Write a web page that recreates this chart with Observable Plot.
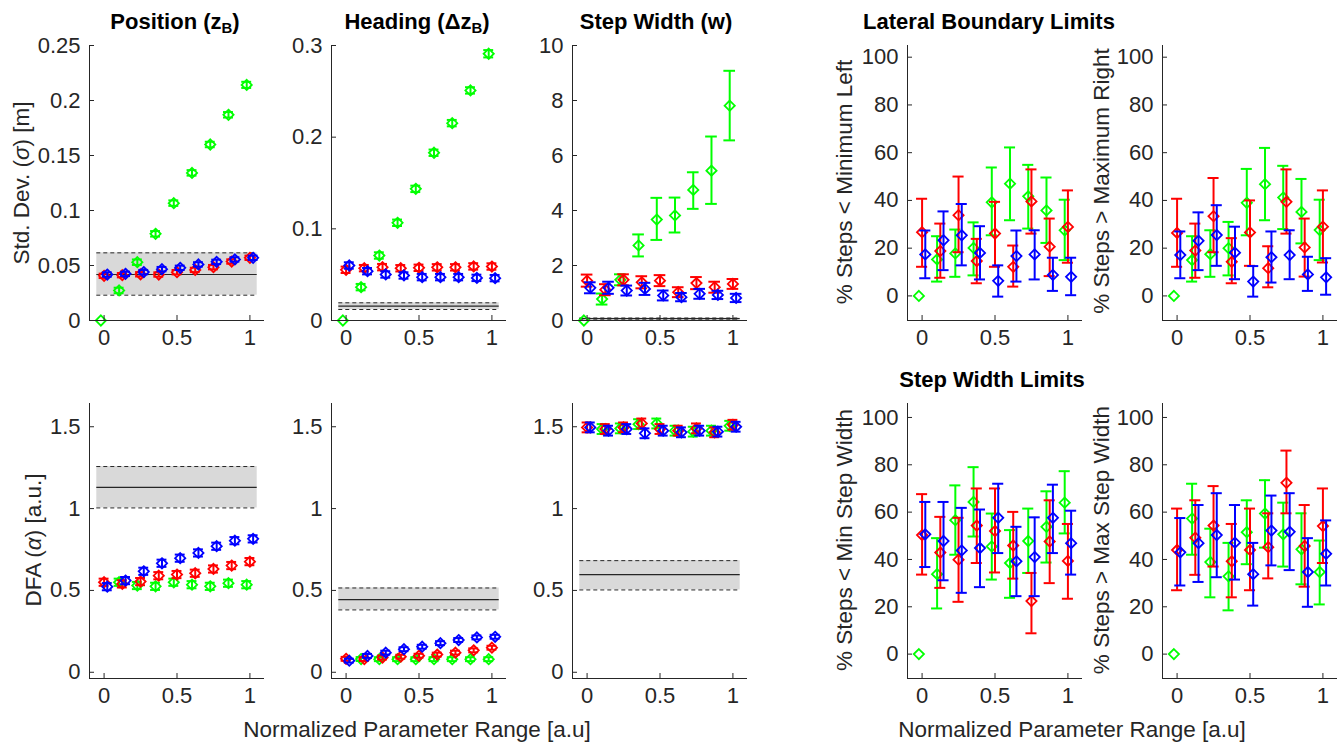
<!DOCTYPE html>
<html>
<head>
<meta charset="utf-8">
<script src="https://cdn.jsdelivr.net/npm/d3@7"></script>
<script src="https://cdn.jsdelivr.net/npm/@observablehq/plot@0.6"></script>
<style>
  html, body { margin: 0; padding: 0; background: #fff; overflow: hidden; }
  #fig { position: relative; width: 1338px; height: 744px; background: #fff; overflow: hidden;
         font-family: "Liberation Sans", Arial, sans-serif; color: #262626; }
  .lbl { position: absolute; white-space: nowrap; transform: translate(-50%, -50%); line-height: 1; }
  .rot { transform: translate(-50%, -50%) rotate(-90deg); }
  .ttl { font-weight: bold; font-size: 22px; color: #000; }
  .ax { font-size: 22.5px; }
  sub { font-size: 68%; vertical-align: -0.3em; line-height: 0; }
</style>
</head>
<body>
<div id="fig"></div>
<script>
// ---------- data ----------
const xBase = [0, 0.125, 0.25, 0.375, 0.5, 0.625, 0.75, 0.875, 1];
const seriesColors = ["#00ff00", "#ff0000", "#0000ff"];
const xTicks = [0, 0.5, 1];

// Position std dev (m)
const posG = [0, 0.0273, 0.053, 0.0788, 0.1067, 0.1342, 0.16, 0.187, 0.2142];
const posR = [0.0406, 0.0412, 0.042, 0.0418, 0.0439, 0.046, 0.0485, 0.0536, 0.057];
const posB = [0.0418, 0.0424, 0.044, 0.0467, 0.0479, 0.051, 0.0533, 0.0555, 0.057];
const posErrG = [0, 0.0025, 0.0025, 0.0025, 0.0025, 0.0025, 0.0025, 0.0025, 0.0028];
const posErrR = [0.002, 0.002, 0.002, 0.002, 0.002, 0.002, 0.002, 0.002, 0.002];
const posErrB = [0.002, 0.002, 0.002, 0.002, 0.002, 0.002, 0.002, 0.002, 0.002];
const posBand = {lo: 0.023, mean: 0.0418, hi: 0.0615};

// Heading std dev
const hdG = [0, 0.0364, 0.0709, 0.1066, 0.1436, 0.183, 0.2153, 0.251, 0.291];
const hdR = [0.0553, 0.0571, 0.0582, 0.057, 0.0575, 0.058, 0.058, 0.059, 0.0589];
const hdB = [0.06, 0.0538, 0.0502, 0.0491, 0.0473, 0.0473, 0.0473, 0.0465, 0.0462];
const hdErrG = [0, 0.0035, 0.0035, 0.0035, 0.0035, 0.0035, 0.0035, 0.0035, 0.004];
const hdErrR = [0.0035, 0.0035, 0.0035, 0.0035, 0.0035, 0.0035, 0.0035, 0.0035, 0.0035];
const hdErrB = [0.0035, 0.0035, 0.0035, 0.0035, 0.0035, 0.0035, 0.0035, 0.0035, 0.0035];
const hdBand = {lo: 0.012, mean: 0.0156, hi: 0.0193};

// Step width std dev
const swG = [0, 0.78, 1.48, 2.73, 3.67, 3.82, 4.75, 5.45, 7.81];
const swGlo = [0, 0.58, 1.28, 2.33, 2.93, 3.2, 4.06, 4.24, 6.55];
const swGhi = [0, 0.98, 1.68, 3.13, 4.46, 4.47, 5.39, 6.69, 9.08];
const swR = [1.45, 1.12, 1.48, 1.39, 1.45, 1.03, 1.36, 1.21, 1.33];
const swErrR = [0.22, 0.2, 0.2, 0.22, 0.2, 0.18, 0.22, 0.2, 0.18];
const swB = [1.19, 1.19, 1.09, 1.15, 0.91, 0.85, 0.97, 0.93, 0.82];
const swErrB = [0.2, 0.22, 0.18, 0.22, 0.18, 0.15, 0.18, 0.15, 0.15];
const swBand = {lo: 0.05, mean: 0.07, hi: 0.09};

// Lateral boundary: % steps < minimum left
const llG = [0, 15.3, 17.8, 20.1, 39.2, 47, 41.7, 35.8, 27.5];
const llGlo = [0, 6, 8, 8.6, 25.4, 31.7, 28.2, 22.2, 15];
const llGhi = [0, 25, 27.8, 30.8, 53.8, 62.2, 54.9, 49.6, 40.3];
const llR = [26.7, 18.8, 33.8, 14.6, 26.1, 12.2, 39.6, 20.6, 28.9];
const llRlo = [12.2, 7.6, 18.3, 5.3, 12.2, 3.9, 26.1, 8.3, 13.9];
const llRhi = [40.7, 30.3, 50, 23.9, 39.4, 21.1, 53, 32.4, 44.2];
const llB = [17.4, 23.3, 25.4, 18, 6.3, 16.7, 17.4, 8.8, 8];
const llBlo = [7.4, 10.8, 12.8, 6.9, -0.3, 6, 6.9, 2.1, 0.3];
const llBhi = [27.4, 35.4, 38.5, 29.2, 12.8, 27.4, 27.5, 16, 16];

// Lateral boundary: % steps > maximum right
const lrG = [0, 15, 17.5, 20, 39, 46.8, 41.2, 35.2, 27.6];
const lrGlo = [0, 6, 8, 8.6, 25.4, 31.7, 28, 22, 15];
const lrGhi = [0, 25, 27.5, 31, 53.2, 62, 54.5, 49, 40.3];
const lrR = [26.4, 19, 33.4, 14.3, 26.6, 11.6, 39.4, 20.3, 29];
const lrRlo = [12.2, 7.6, 18.3, 5.3, 12.6, 3.6, 26.1, 8.1, 14];
const lrRhi = [40.7, 30.3, 49.4, 24.2, 40, 20.8, 53, 32.4, 44.2];
const lrB = [17.1, 23.1, 25.5, 18.1, 6, 16.2, 17.1, 9, 7.8];
const lrBlo = [7.4, 10.8, 12.6, 7, -0.3, 5.6, 7, 2.1, 0.5];
const lrBhi = [27, 35, 38, 29, 12.5, 27, 27.5, 16.4, 15.8];

// DFA position
const dpG = [null, 0.55, 0.53, 0.525, 0.55, 0.535, 0.525, 0.544, 0.535];
const dpR = [0.55, 0.54, 0.554, 0.59, 0.597, 0.605, 0.631, 0.652, 0.676];
const dpB = [0.523, 0.56, 0.617, 0.666, 0.697, 0.729, 0.77, 0.804, 0.815];
const dfaErr = [0.022, 0.022, 0.022, 0.022, 0.022, 0.022, 0.022, 0.022, 0.022];
const dpBand = {lo: 1.004, mean: 1.13, hi: 1.257};

// DFA heading
const dhG = [null, 0.081, 0.08, 0.08, 0.08, 0.08, 0.08, 0.08, 0.08];
const dhR = [0.082, 0.081, 0.09, 0.095, 0.101, 0.108, 0.12, 0.134, 0.15];
const dhB = [0.071, 0.1, 0.12, 0.141, 0.156, 0.178, 0.197, 0.213, 0.217];
const dhErr = [0.012, 0.012, 0.012, 0.012, 0.012, 0.012, 0.012, 0.012, 0.012];
const dhBand = {lo: 0.381, mean: 0.444, hi: 0.515};

// DFA step width
const dsG = [null, 1.486, 1.49, 1.516, 1.52, 1.476, 1.47, 1.476, 1.506];
const dsR = [1.496, 1.486, 1.496, 1.52, 1.486, 1.476, 1.49, 1.466, 1.512];
const dsB = [1.496, 1.476, 1.486, 1.46, 1.476, 1.466, 1.476, 1.47, 1.5];
const dsErr = [0.03, 0.03, 0.03, 0.03, 0.03, 0.03, 0.03, 0.03, 0.03];
const dsBand = {lo: 0.503, mean: 0.597, hi: 0.682};

// Step width limits: % steps < min step width
const smnG = [0, 33.8, 56.6, 64.3, 45.5, 38.5, 47.8, 53.8, 64];
const smnGlo = [0, 19.3, 42, 49.7, 31.5, 23.8, 34.3, 38.7, 51];
const smnGhi = [0, 49, 71.3, 79, 59.4, 52.4, 61.5, 68.8, 77.3];
const smnR = [50.3, 42.9, 39.9, 54.3, 52, 45.9, 22.4, 47.6, 39.4];
const smnRlo = [33.6, 28, 22.1, 38.5, 34.5, 31.9, 8.8, 30, 23.4];
const smnRhi = [67.6, 58, 57.6, 70, 70, 60.1, 34.3, 65, 55];
const smnB = [50.6, 47.8, 43.8, 44.8, 57.6, 39.2, 41, 57.6, 46.9];
const smnBlo = [36.8, 31.2, 25.9, 28.3, 42.7, 24.5, 24.5, 42.7, 33.6];
const smnBhi = [64.3, 64.3, 61.8, 61.1, 72, 53.8, 57.8, 71.6, 60.6];

// Step width limits: % steps > max step width
const smxG = [0, 57.3, 38.9, 32.9, 51.5, 59.4, 50.6, 44.3, 34.7];
const smxGlo = [0, 42, 24, 18.5, 38, 45, 37, 29.5, 21];
const smxGhi = [0, 72, 53, 47, 65, 73.5, 64, 59.5, 48];
const smxR = [44, 49.2, 54.3, 39.2, 44, 45.2, 72.4, 45.7, 54.1];
const smxRlo = [27, 33.5, 37, 24, 27, 32, 59.5, 28.5, 38.5];
const smxRhi = [61.5, 65, 71, 55, 61.5, 59.5, 86, 63, 70];
const smxB = [43, 46.9, 50.3, 47.1, 33.8, 52.2, 51.7, 34.7, 42.4];
const smxBlo = [29, 30.5, 32.5, 31.5, 20.5, 37.5, 35.5, 20, 29];
const smxBhi = [57.5, 63, 68, 63, 47, 67, 68, 49, 56.5];

// ---------- helpers ----------
const fig = document.getElementById("fig");
const offsets = [-0.022, 0, 0.022];
const INK = "#262626";
const fmt = d => String(d);

function rows(k, ys, los, his) {
  return xBase.map((x, i) => ({x: x + offsets[k], y: ys[i], lo: los[i], hi: his[i]}))
    .filter(d => d.y != null);
}
function sym(k, ys, errs) {
  return rows(k, ys, ys.map((v, i) => v == null ? null : v - errs[i]), ys.map((v, i) => v == null ? null : v + errs[i]));
}

function panel({left, top, yDomain, yTicks, band, series, cap = 0.038, w = 175, h = 275}) {
  const ML = 80, MR = 1, MT = 4, MB = 46;
  const xDomain = [-0.1, 1.1];
  const marks = [];
  if (band) {
    const bx1 = -0.05, bx2 = 1.05;
    marks.push(Plot.rect([band], {x1: bx1, x2: bx2, y1: "lo", y2: "hi", fill: "#d9d9d9"}));
    marks.push(Plot.ruleY([band], {y: "lo", x1: bx1, x2: bx2, stroke: INK, strokeWidth: 1, strokeDasharray: "4,3"}));
    marks.push(Plot.ruleY([band], {y: "hi", x1: bx1, x2: bx2, stroke: INK, strokeWidth: 1, strokeDasharray: "4,3"}));
    marks.push(Plot.ruleY([band], {y: "mean", x1: bx1, x2: bx2, stroke: INK, strokeWidth: 1.2}));
  }
  series.forEach((data, k) => {
    const c = seriesColors[k];
    const eb = data.filter(d => d.hi > d.lo);
    marks.push(Plot.ruleX(eb, {x: "x", y1: "lo", y2: "hi", stroke: c, strokeWidth: 2}));
    marks.push(Plot.ruleY(eb, {y: "lo", x1: d => d.x - cap, x2: d => d.x + cap, stroke: c, strokeWidth: 2}));
    marks.push(Plot.ruleY(eb, {y: "hi", x1: d => d.x - cap, x2: d => d.x + cap, stroke: c, strokeWidth: 2}));
    marks.push(Plot.dot(data, {x: "x", y: "y", symbol: "diamond2", r: 4.6, stroke: c, strokeWidth: 1.8, fill: "none"}));
  });
  marks.push(Plot.axisY({ticks: yTicks, tickFormat: fmt, tickSize: -5, tickPadding: 14, fontSize: 22, label: null, stroke: INK}));
  marks.push(Plot.axisX({ticks: xTicks, tickFormat: fmt, tickSize: -5, tickPadding: 14, fontSize: 22, label: null, stroke: INK}));
  marks.push(Plot.ruleX([xDomain[0]], {stroke: INK, strokeWidth: 1}));
  marks.push(Plot.ruleY([yDomain[0]], {stroke: INK, strokeWidth: 1}));
  const svg = Plot.plot({
    width: w + ML + MR, height: h + MT + MB,
    marginLeft: ML, marginRight: MR, marginTop: MT, marginBottom: MB,
    x: {domain: xDomain}, y: {domain: yDomain},
    style: {fontFamily: "Liberation Sans, Arial, sans-serif", color: INK, background: "transparent", overflow: "visible"},
    marks
  });
  svg.style.position = "absolute";
  svg.style.left = (left - ML) + "px";
  svg.style.top = (top - MT) + "px";
  svg.style.maxWidth = "none";
  fig.appendChild(svg);
}

function label(html, cx, cy, cls) {
  const d = document.createElement("div");
  d.className = "lbl " + cls;
  d.innerHTML = html;
  d.style.left = cx + "px";
  d.style.top = cy + "px";
  fig.appendChild(d);
}

// ---------- panels ----------
const T1 = 45, T2 = 403;
const L = [89, 331, 572, 907, 1162];
const stdTicks = [0, 0.05, 0.1, 0.15, 0.2, 0.25];
const hdTicks = [0, 0.1, 0.2, 0.3];
const swTicks = [0, 2, 4, 6, 8, 10];
const pctTicks = [0, 20, 40, 60, 80, 100];
const dfaTicks = [0, 0.5, 1, 1.5];

panel({left: L[0], top: T1, yDomain: [0, 0.25], yTicks: stdTicks, band: posBand, cap: 0.034,
  series: [sym(0, posG, posErrG), sym(1, posR, posErrR), sym(2, posB, posErrB)]});
panel({left: L[1], top: T1, yDomain: [0, 0.3], yTicks: hdTicks, band: hdBand, cap: 0.034,
  series: [sym(0, hdG, hdErrG), sym(1, hdR, hdErrR), sym(2, hdB, hdErrB)]});
panel({left: L[2], top: T1, yDomain: [0, 10], yTicks: swTicks, band: swBand, cap: 0.04,
  series: [rows(0, swG, swGlo, swGhi), sym(1, swR, swErrR), sym(2, swB, swErrB)]});
panel({left: L[3], top: T1, yDomain: [-10.3, 104.9], yTicks: pctTicks,
  series: [rows(0, llG, llGlo, llGhi), rows(1, llR, llRlo, llRhi), rows(2, llB, llBlo, llBhi)]});
panel({left: L[4], top: T1, yDomain: [-10.3, 104.9], yTicks: pctTicks,
  series: [rows(0, lrG, lrGlo, lrGhi), rows(1, lrR, lrRlo, lrRhi), rows(2, lrB, lrBlo, lrBhi)]});

panel({left: L[0], top: T2, yDomain: [-0.038, 1.642], yTicks: dfaTicks, band: dpBand, cap: 0.034,
  series: [sym(0, dpG, dfaErr), sym(1, dpR, dfaErr), sym(2, dpB, dfaErr)]});
panel({left: L[1], top: T2, yDomain: [-0.038, 1.642], yTicks: dfaTicks, band: dhBand, cap: 0.034,
  series: [sym(0, dhG, dhErr), sym(1, dhR, dhErr), sym(2, dhB, dhErr)]});
panel({left: L[2], top: T2, yDomain: [-0.038, 1.642], yTicks: dfaTicks, band: dsBand, cap: 0.034,
  series: [sym(0, dsG, dsErr), sym(1, dsR, dsErr), sym(2, dsB, dsErr)]});
panel({left: L[3], top: T2, yDomain: [-10.3, 105.9], yTicks: pctTicks,
  series: [rows(0, smnG, smnGlo, smnGhi), rows(1, smnR, smnRlo, smnRhi), rows(2, smnB, smnBlo, smnBhi)]});
panel({left: L[4], top: T2, yDomain: [-10.3, 105.9], yTicks: pctTicks,
  series: [rows(0, smxG, smxGlo, smxGhi), rows(1, smxR, smxRlo, smxRhi), rows(2, smxB, smxBlo, smxBhi)]});

// ---------- titles & labels ----------
label("Position (z<sub>B</sub>)", 175, 22, "ttl");
label("Heading (&Delta;z<sub>B</sub>)", 417, 22, "ttl");
label("Step Width (w)", 656, 22, "ttl");
label("Lateral Boundary Limits", 989, 22, "ttl");
label("Step Width Limits", 992, 380, "ttl");

label("Std. Dev. (<i>&sigma;</i>) [m]", 22, 183, "ax rot");
label("DFA (<i>&alpha;</i>) [a.u.]", 34, 540, "ax rot");
label("% Steps &lt; Minimum Left", 845, 182, "ax rot");
label("% Steps &gt; Maximum Right", 1102, 181, "ax rot");
label("% Steps &lt; Min Step Width", 845, 540, "ax rot");
label("% Steps &gt; Max Step Width", 1102, 540, "ax rot");

label("Normalized Parameter Range [a.u]", 417, 730, "ax");
label("Normalized Parameter Range [a.u]", 1072, 730, "ax");
</script>
</body>
</html>
